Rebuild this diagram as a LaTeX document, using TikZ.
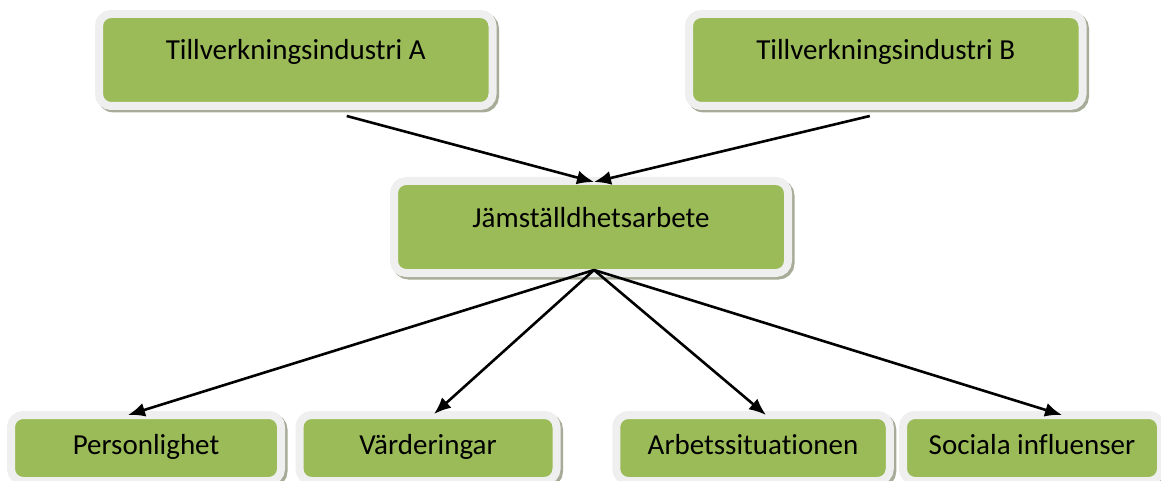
\documentclass[tikz,border=0pt]{standalone}
\usepackage{fontspec}
\setmainfont{Carlito}[Ligatures={NoCommon}]
\usetikzlibrary{arrows.meta,shadows,calc}
\definecolor{boxgreen}{HTML}{9BBB59}
\definecolor{framec}{HTML}{EFEFEF}
\definecolor{shadowc}{HTML}{A6AC98}
\begin{document}
\begin{tikzpicture}[x=1pt,y=-1pt,
  box/.style={draw=framec, line width=8pt, fill=boxgreen, rounded corners=12pt,
    font=\fontsize{29}{34}\selectfont, inner sep=0pt,
    drop shadow={shadow xshift=2.5pt, shadow yshift=-2.5pt, fill=shadowc, draw=shadowc, line width=8pt, opacity=1}},
  bigbox/.style={box, minimum width=393.5pt, minimum height=92pt, text height=20pt, text depth=20pt},
  smallbox/.style={box, minimum height=66pt, text height=20pt, text depth=7pt},
  arr/.style={line width=2.6pt, -{Latex[length=17pt,width=14pt]}}]
\useasboundingbox (0,0) rectangle (1161,481);
\node[bigbox] (A) at (295.75,60) {Tillverkningsindustri A};
\node[bigbox] (B) at (885.75,60) {Tillverkningsindustri B};
\node[bigbox, minimum width=394pt] (M) at (591,227) {Jämställdhetsarbete};
\node[smallbox, minimum width=270pt] (P) at (146,448) {Personlighet};
\node[smallbox, minimum width=257pt] (V) at (428,448) {Värderingar};
\node[smallbox, minimum width=273.5pt] (R) at (753,448) {Arbetssituationen};
\node[smallbox, minimum width=258pt] (S) at (1032,448) {Sociala influenser};
% connector ends
\coordinate (Aout) at ($(A.south)+(51,6)$);
\coordinate (Bout) at ($(B.south)+(-16,6)$);
\coordinate (Min) at ($(M.north)+(3,5)$);
\coordinate (Mout) at ($(M.south)+(3,-7)$);
\coordinate (Pin) at ($(P.north)+(-18,4)$);
\coordinate (Vin) at ($(V.north)+(6,3)$);
\coordinate (Rin) at ($(R.north)+(13,4)$);
\coordinate (Sin) at ($(S.north)+(30,4)$);
\draw[arr] (Aout) -- (Min);
\draw[arr] (Bout) -- (Min);
\draw[arr] (Mout) -- (Pin);
\draw[arr] (Mout) -- (Vin);
\draw[arr] (Mout) -- (Rin);
\draw[arr] (Mout) -- (Sin);
\end{tikzpicture}
\end{document}
